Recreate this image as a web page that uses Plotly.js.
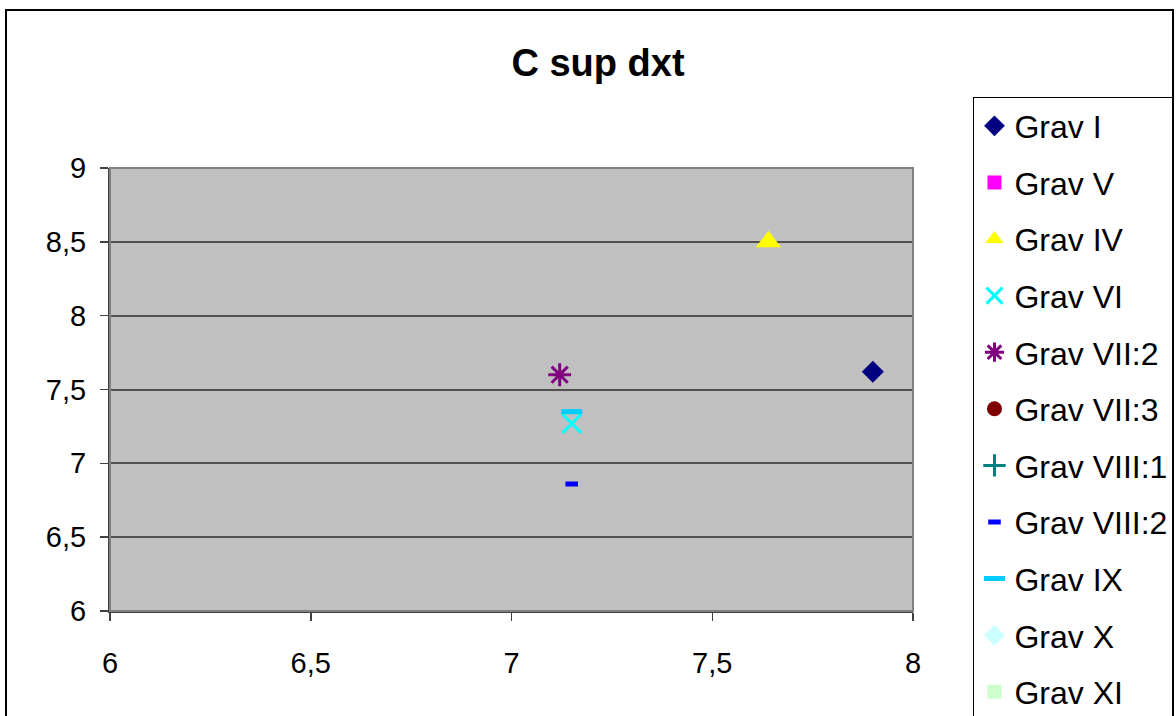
<!DOCTYPE html>
<html>
<head>
<meta charset="utf-8">
<script src="https://cdn.plot.ly/plotly-3.0.1.min.js"></script>
<style>html,body{margin:0;padding:0;background:#fff;}#chart{width:1176px;height:716px;}</style>
</head>
<body>
<div id="chart"></div>
<script>
// Series names (legend order)
const seriesNames = ["Grav I","Grav V","Grav IV","Grav VI","Grav VII:2","Grav VII:3","Grav VIII:1","Grav VIII:2","Grav IX","Grav X","Grav XI"];
// X values per series (null = no visible point)
const xValues = [[7.90],[null],[7.64],[7.15],[7.12],[null],[null],[7.15],[7.15],[null],[null]];
// Y values per series
const yValues = [[7.62],[null],[8.50],[7.27],[7.60],[null],[null],[6.86],[7.35],[null],[null]];
// Axis tick values and labels
const xTickVals = [6, 6.5, 7, 7.5, 8];
const xTickText = ["6", "6,5", "7", "7,5", "8"];
const yTickVals = [6, 6.5, 7, 7.5, 8, 8.5, 9];
const yTickText = ["6", "6,5", "7", "7,5", "8", "8,5", "9"];
const chartTitle = "C sup dxt";

// Marker styles
const styles = [
  {symbol: "diamond", color: "#000080", size: 17},
  {symbol: "square", color: "#FF00FF", size: 14},
  {symbol: "triangle-up", color: "#FFFF00", size: 22},
  {symbol: "x-thin-open", color: "#00FFFF", size: 19, lw: 3},
  {symbol: "asterisk-open", color: "#800080", size: 19, lw: 3},
  {symbol: "circle", color: "#800000", size: 15},
  {symbol: "cross-thin-open", color: "#008080", size: 19, lw: 3},
  {symbol: "line-ew-open", color: "#0000FF", size: 9, lw: 5},
  {symbol: "line-ew-open", color: "#00CCFF", size: 15, lw: 5},
  {symbol: "diamond", color: "#CCFFFF", size: 17},
  {symbol: "square", color: "#CCFFCC", size: 14}
];

const traces = seriesNames.map((name, i) => {
  const s = styles[i];
  const m = {symbol: s.symbol, color: s.color, size: s.size};
  if (s.lw) m.line = {color: s.color, width: s.lw}; else m.line = {width: 0};
  return {
    type: "scatter", mode: "markers", name: name,
    x: xValues[i], y: yValues[i], marker: m,
    legendgroup: "g" + i, cliponaxis: false, hoverinfo: "x+y+name"
  };
});

const font = {family: "Liberation Sans, Arial, sans-serif", color: "#000"};

const layout = {
  width: 1176, height: 716,
  margin: {l: 110, r: 263, t: 168, b: 105, pad: 0, autoexpand: false},
  paper_bgcolor: "#FFFFFF",
  plot_bgcolor: "#C0C0C0",
  font: Object.assign({size: 29}, font),
  title: {
    text: "<b>" + chartTitle + "</b>",
    font: Object.assign({size: 38}, font),
    x: 0.5085, xref: "container", xanchor: "center",
    y: 0.913, yref: "container", yanchor: "middle"
  },
  showlegend: true,
  legend: {
    x: 1.0747, xanchor: "left", y: 1.1603, yanchor: "top",
    bgcolor: "#FFFFFF", bordercolor: "#000000", borderwidth: 1.5,
    font: Object.assign({size: 32}, font),
    tracegroupgap: 12, itemsizing: "trace", maxheight: 900
  },
  xaxis: {
    range: [6, 8], tickvals: xTickVals, ticktext: xTickText,
    showgrid: false, zeroline: false,
    showline: true, linecolor: "#404040", linewidth: 2,
    ticks: "outside", ticklen: 8, tickwidth: 1.5, tickcolor: "#404040",
    tickfont: Object.assign({size: 29}, font), ticklabelstandoff: 17,
    fixedrange: true
  },
  yaxis: {
    range: [6, 9], tickvals: yTickVals, ticktext: yTickText,
    showgrid: true, gridcolor: "#505050", gridwidth: 2, zeroline: false,
    showline: true, linecolor: "#404040", linewidth: 2,
    ticks: "outside", ticklen: 8, tickwidth: 1.5, tickcolor: "#404040",
    tickfont: Object.assign({size: 29}, font), ticklabelstandoff: 8,
    fixedrange: true
  },
  shapes: [
    {type: "rect", xref: "paper", yref: "paper", x0: 0, x1: 1, y0: 0, y1: 1,
     line: {color: "#808080", width: 2}, fillcolor: "rgba(0,0,0,0)", layer: "above"},
    {type: "rect", xref: "paper", yref: "paper", x0: -0.1295, x1: 1.3238, y0: -0.3, y1: 1.3567,
     line: {color: "#000000", width: 2}, fillcolor: "rgba(0,0,0,0)", layer: "below"}
  ]
};

Plotly.newPlot("chart", traces, layout, {displayModeBar: false, staticPlot: true});
</script>
</body>
</html>
